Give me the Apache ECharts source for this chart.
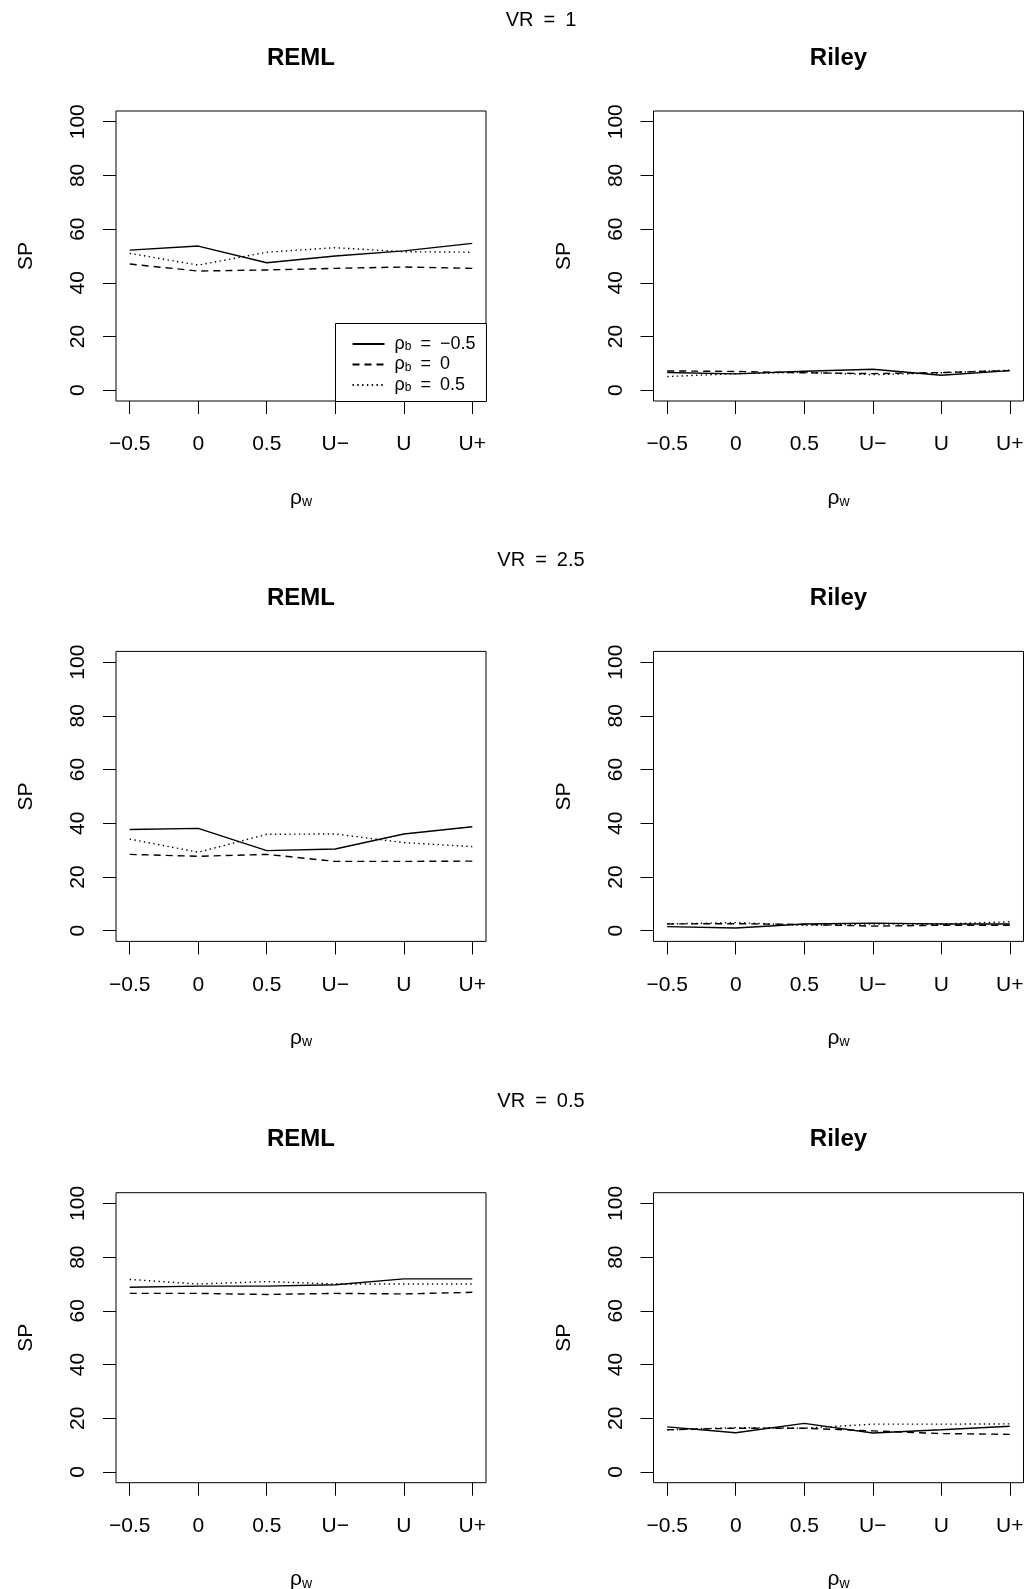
<!DOCTYPE html>
<html><head><meta charset="utf-8">
<script src="https://cdn.jsdelivr.net/npm/echarts@6/dist/echarts.min.js"></script>
<style>html,body{margin:0;padding:0;background:#fff}#c{width:1027px;height:1589px}</style>
</head><body><div id="c"></div>
<script>
// ---- data ----
const categories = ['−0.5', '0', '0.5', 'U−', 'U', 'U+'];
const xPositions = [1, 2, 3, 4, 5, 6];
const yTicks = [0, 20, 40, 60, 80, 100];
const vrLabels = ['VR\u2002=\u20021', 'VR\u2002=\u20022.5', 'VR\u2002=\u20020.5'];
const methods = ['REML', 'Riley'];
const rhoBLabels = ['−0.5', '0', '0.5'];

const remlVR1Neg  = [52.2, 53.7, 47.5, 50.0, 51.9, 54.7];
const remlVR1Zero = [47.0, 44.4, 44.8, 45.4, 45.9, 45.4];
const remlVR1Pos  = [51.0, 46.6, 51.4, 53.1, 51.6, 51.4];
const rileyVR1Neg  = [6.6, 6.1, 7.1, 7.8, 5.6, 7.3];
const rileyVR1Zero = [7.2, 7.0, 6.5, 6.2, 6.6, 7.3];
const rileyVR1Pos  = [5.1, 6.2, 6.7, 5.8, 6.5, 7.5];

const remlVR25Neg  = [37.7, 38.1, 29.8, 30.4, 36.0, 38.7];
const remlVR25Zero = [28.4, 27.7, 28.4, 25.8, 25.8, 25.9];
const remlVR25Pos  = [34.1, 29.2, 35.9, 36.0, 32.8, 31.3];
const rileyVR25Neg  = [1.5, 1.0, 2.5, 2.8, 2.5, 2.5];
const rileyVR25Zero = [2.5, 2.6, 2.3, 1.7, 2.0, 2.0];
const rileyVR25Pos  = [2.5, 3.0, 2.0, 2.5, 2.5, 3.3];

const remlVR05Neg  = [68.8, 69.2, 69.2, 69.7, 71.9, 71.9];
const remlVR05Zero = [66.5, 66.5, 66.1, 66.5, 66.3, 66.9];
const remlVR05Pos  = [71.7, 70.0, 70.9, 70.0, 70.0, 70.0];
const rileyVR05Neg  = [16.8, 14.6, 18.1, 14.5, 15.7, 17.0];
const rileyVR05Zero = [15.7, 16.3, 16.3, 15.3, 14.3, 14.0];
const rileyVR05Pos  = [15.7, 16.5, 16.3, 17.8, 17.8, 17.9];

const panelData = [
  [[remlVR1Neg, remlVR1Zero, remlVR1Pos], [rileyVR1Neg, rileyVR1Zero, rileyVR1Pos]],
  [[remlVR25Neg, remlVR25Zero, remlVR25Pos], [rileyVR25Neg, rileyVR25Zero, rileyVR25Pos]],
  [[remlVR05Neg, remlVR05Zero, remlVR05Pos], [rileyVR05Neg, rileyVR05Zero, rileyVR05Pos]]
];

// ---- layout ----
const FONT = '"Liberation Sans", Arial, Helvetica, sans-serif';
const gridLeft = [116, 653.5];
const gridTop = [111, 651.4, 1192.7];
const GW = 370, GH = 290;
const lineTypes = ['solid', [7, 5], [1.4, 3.4]];

const grids = [], xAxes = [], yAxes = [], series = [], graphics = [];
let gi = 0;
for (let r = 0; r < 3; r++) {
  const off = gridTop[r] - gridTop[0];
  graphics.push({type: 'text', x: 541, y: 20 + off, style: {text: vrLabels[r], font: '20px ' + FONT, fill: '#000', textAlign: 'center', textVerticalAlign: 'middle'}});
  for (let c = 0; c < 2; c++) {
    grids.push({left: gridLeft[c], top: gridTop[r], width: GW, height: GH, show: true, borderColor: '#000', borderWidth: 1, backgroundColor: 'transparent', containLabel: false, outerBoundsMode: 'none'});
    graphics.push({type: 'text', x: gridLeft[c] + GW / 2, y: 58 + off, style: {text: methods[c], font: 'bold 24px ' + FONT, fill: '#000', textAlign: 'center', textVerticalAlign: 'middle'}});
    xAxes.push({
      type: 'value', gridIndex: gi, min: 0.8, max: 6.2, position: 'bottom',
      axisLine: {show: false, onZero: false}, splitLine: {show: false},
      axisTick: {show: true, inside: false, customValues: xPositions, length: 13, lineStyle: {color: '#000', width: 1}},
      axisLabel: {show: true, customValues: xPositions, margin: 33, fontSize: 21, fontFamily: FONT, color: '#000',
        formatter: v => categories[Math.round(v) - 1]},
      name: '{r|ρ}{s|w}', nameLocation: 'middle', nameGap: 86,
      nameTextStyle: {rich: {r: {fontSize: 21, fontFamily: FONT, color: '#000'}, s: {fontSize: 14, fontFamily: FONT, color: '#000', padding: [8, 0, 0, 0]}}}
    });
    yAxes.push({
      type: 'value', gridIndex: gi, min: -4, max: 104, position: 'left',
      axisLine: {show: false, onZero: false}, splitLine: {show: false},
      axisTick: {show: true, inside: false, customValues: yTicks, length: 13, lineStyle: {color: '#000', width: 1}},
      axisLabel: {show: true, customValues: yTicks, rotate: 90, margin: 27, fontSize: 21, fontFamily: FONT, color: '#000'},
      name: 'SP', nameLocation: 'middle', nameRotate: 90, nameGap: 79,
      nameTextStyle: {fontSize: 21, fontFamily: FONT, color: '#000'}
    });
    const sets = panelData[r][c];
    for (let k = 0; k < 3; k++) {
      series.push({
        type: 'line', name: 'ρb = ' + rhoBLabels[k], xAxisIndex: gi, yAxisIndex: gi,
        data: sets[k].map((v, i) => [xPositions[i], v]),
        symbol: 'none', silent: true,
        itemStyle: {color: '#000'},
        lineStyle: {color: '#000', width: 1.4, type: lineTypes[k], cap: 'butt'}
      });
    }
    gi++;
  }
}

const chart = echarts.init(document.getElementById('c'), null, {renderer: 'canvas'});
chart.setOption({
  animation: false,
  backgroundColor: '#fff',
  grid: grids, xAxis: xAxes, yAxis: yAxes, series: series,
  graphic: graphics,
  legend: {
    show: true, orient: 'vertical', left: 335.5, top: 323.5,
    data: rhoBLabels.map(l => 'ρb = ' + l),
    backgroundColor: '#fff', borderColor: '#000', borderWidth: 1, borderRadius: 0,
    padding: [11.5, 11, 7.5, 16], itemWidth: 32, itemHeight: 18, itemGap: 2.5,
    selectedMode: false,
    itemStyle: {color: 'rgba(0,0,0,0)', borderColor: 'rgba(0,0,0,0)', borderWidth: 0, opacity: 0},
    formatter: name => {
      const l = name.replace('ρb = ', '');
      return '{r|ρ}{s|b}{r|\u2002=\u2002' + l + '}';
    },
    textStyle: {padding: [0, 0, 0, 5], rich: {
      r: {fontSize: 18, fontFamily: FONT, color: '#000', lineHeight: 18},
      s: {fontSize: 12, fontFamily: FONT, color: '#000', padding: [6, 0, 0, 0]}
    }}
  }
});
</script></body></html>
